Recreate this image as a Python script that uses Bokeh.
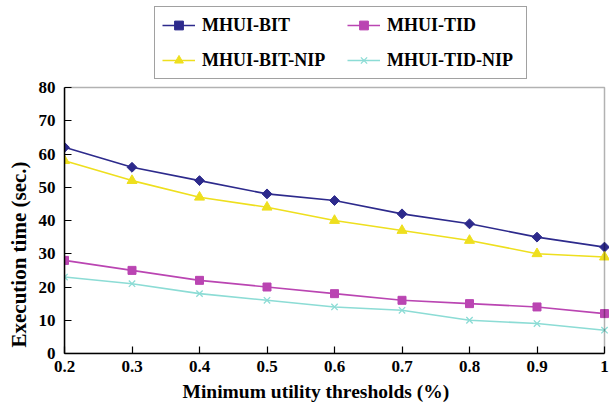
import math
from bokeh.plotting import figure
from bokeh.models import (Range1d, FixedTicker, Legend, LegendItem, Title, BoxAnnotation)
from bokeh.embed import file_html
from bokeh.resources import INLINE

# ---- data ----
thresholds = [0.2, 0.3, 0.4, 0.5, 0.6, 0.7, 0.8, 0.9, 1.0]
x_tick_labels = ["0.2", "0.3", "0.4", "0.5", "0.6", "0.7", "0.8", "0.9", "1"]
y_ticks = [0, 10, 20, 30, 40, 50, 60, 70, 80]
mhui_bit = [62, 56, 52, 48, 46, 42, 39, 35, 32]
mhui_tid = [28, 25, 22, 20, 18, 16, 15, 14, 12]
mhui_bit_nip = [58, 52, 47, 44, 40, 37, 34, 30, 29]
mhui_tid_nip = [23, 21, 18, 16, 14, 13, 10, 9, 7]
series_names = ["MHUI-BIT", "MHUI-TID", "MHUI-BIT-NIP", "MHUI-TID-NIP"]

FONT = "Liberation Serif"
C_BIT = "#2D2A8C"
C_TID = "#BA45B2"
C_BITN = "#EEDF1E"
C_TIDN = "#8CDCD5"

# pixel layout: plot box 64..604 x 87..353
PX_X = 540 / (thresholds[-1] - thresholds[0])
PX_Y = 266 / (y_ticks[-1] - y_ticks[0])
x_range = Range1d(thresholds[0], thresholds[-1] + 5 / PX_X)
y_range = Range1d(y_ticks[0], y_ticks[0] + 353 / PX_Y)

p = figure(width=609, height=413, output_backend="svg", toolbar_location=None,
           x_range=x_range, y_range=y_range,
           min_border_left=64, min_border_right=0, min_border_top=0, min_border_bottom=60)
p.outline_line_color = None
p.background_fill_color = "white"
p.border_fill_color = "white"
p.xgrid.visible = False
p.ygrid.visible = False

xa = p.xaxis[0]
xa.ticker = FixedTicker(ticks=thresholds)
xa.major_label_overrides = {t: s for t, s in zip(thresholds, x_tick_labels)}
xa.bounds = (thresholds[0], thresholds[-1])
ya = p.yaxis[0]
ya.ticker = FixedTicker(ticks=y_ticks)
ya.bounds = (y_ticks[0], y_ticks[-1])
for ax in (xa, ya):
    ax.major_tick_in = 7
    ax.major_tick_out = 0
    ax.minor_tick_line_color = None
    ax.axis_line_color = "black"
    ax.axis_line_width = 1.5
    ax.major_tick_line_color = "black"
    ax.major_tick_line_width = 1.2
    ax.major_label_text_font = FONT
    ax.major_label_text_font_style = "bold"
    ax.major_label_text_font_size = "17px"
    ax.major_label_text_color = "black"
xa.major_label_standoff = 7
ya.major_label_standoff = 9

# plot box
p.add_layout(BoxAnnotation(left=thresholds[0], right=thresholds[-1],
                           bottom=y_ticks[0], top=y_ticks[-1],
                           fill_alpha=0, line_color="black", line_width=1.5))


def series(y, color, marker, size, angle=0.0):
    r_line = p.line(thresholds, y, line_color=color, line_width=1.6)
    if marker == "x":
        r_m = p.scatter(thresholds, y, marker=marker, size=size, line_color=color, line_width=1.3)
    else:
        r_m = p.scatter(thresholds, y, marker=marker, size=size, angle=angle,
                        fill_color=color, line_color=color)
    return [r_line, r_m]


r_bit = series(mhui_bit, C_BIT, "square", 7, math.pi / 4)
r_tid = series(mhui_tid, C_TID, "square", 8)
r_bitn = series(mhui_bit_nip, C_BITN, "triangle", 10)
r_tidn = series(mhui_tid_nip, C_TIDN, "x", 9)

legend = Legend(items=[
    LegendItem(label=series_names[0], renderers=r_bit),
    LegendItem(label=series_names[2], renderers=r_bitn),
    LegendItem(label=series_names[1], renderers=r_tid),
    LegendItem(label=series_names[3], renderers=r_tidn),
], ncols=2, location=(90, 274))
legend.label_text_font = FONT
legend.label_text_font_style = "bold"
legend.label_text_font_size = "18px"
legend.label_text_color = "black"
legend.glyph_width = 33
legend.glyph_height = 22
legend.label_height = 22
legend.label_width = 132
legend.label_standoff = 7
legend.spacing = 13
legend.padding = 7
legend.margin = 0
legend.border_line_color = "#444444"
legend.border_line_width = 1.2
legend.background_fill_alpha = 1
p.add_layout(legend)

xt = Title(text="Minimum utility thresholds (%)", align="left", offset=118,
           text_font=FONT, text_font_style="bold", text_font_size="19.5px",
           text_color="black", standoff=9)
p.add_layout(xt, "below")
yt = Title(text="Execution time (sec.)", align="left", offset=6,
           text_font=FONT, text_font_style="bold", text_font_size="21px",
           text_color="black", standoff=9)
p.add_layout(yt, "left")

open("out.html", "w").write(file_html(p, INLINE))
